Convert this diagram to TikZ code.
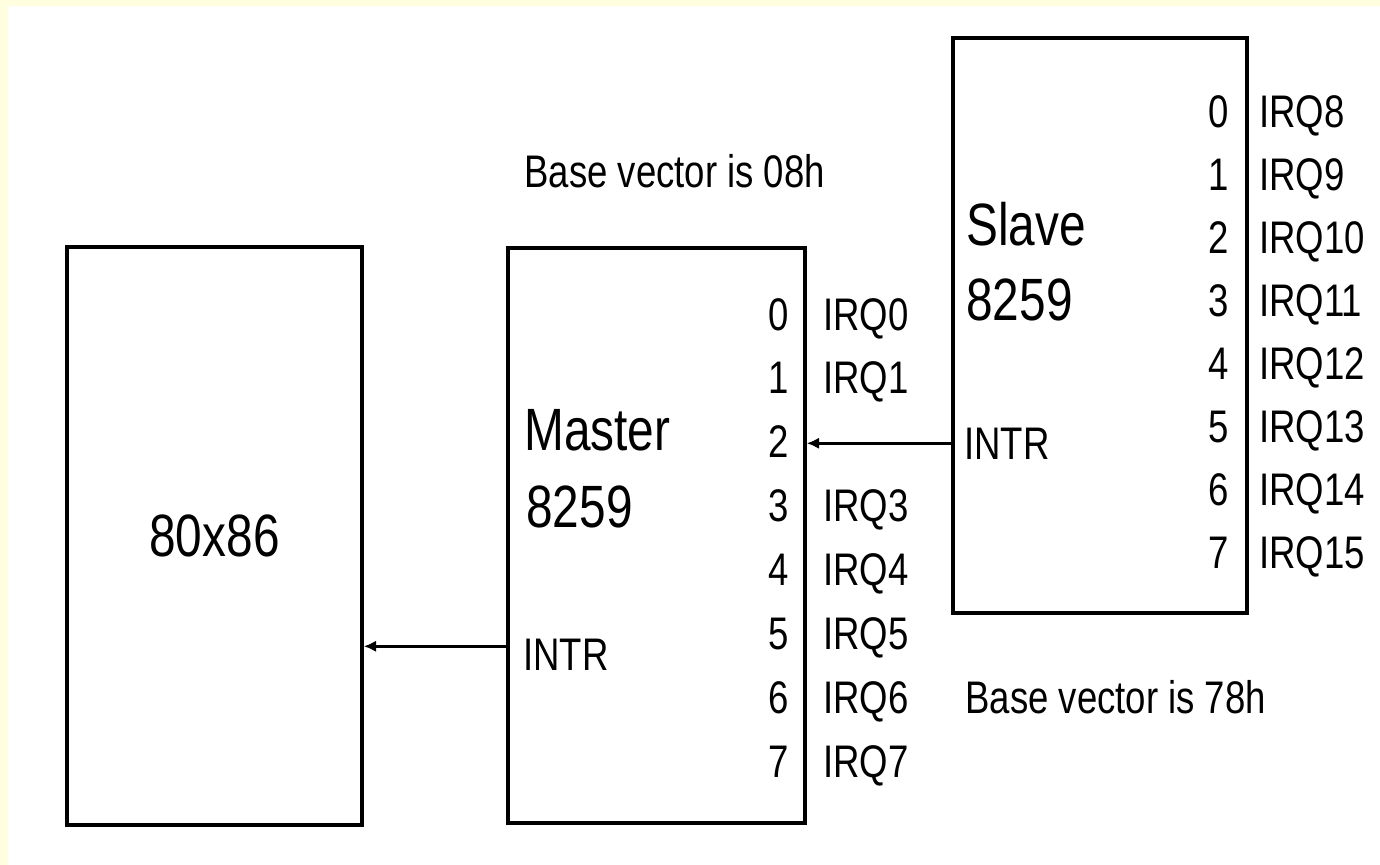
\documentclass[tikz,border=0pt]{standalone}
\usepackage{fontspec}
\setmainfont[FakeStretch=0.8]{Liberation Sans}
\usetikzlibrary{arrows.meta,positioning}
\definecolor{FillEdge}{RGB}{255,255,224}

\begin{document}
\begin{tikzpicture}[x=0.02cm, y=-0.02cm,
    box/.style={draw, line width=2pt, minimum width=5.9cm, minimum height=11.5cm, inner sep=0pt, font=\fontsize{34}{40}\selectfont},
    big/.style={anchor=base west, inner sep=0pt, font=\fontsize{34}{40}\selectfont},
    lbl/.style={anchor=base west, inner sep=0pt, font=\fontsize{26}{30}\selectfont},
    pin/.style={anchor=base east, inner sep=0pt, font=\fontsize{26}{30}\selectfont},
    arr/.style={-{Latex[length=7pt,width=6.5pt]}, line width=2pt}
]
    % page with the pale edge strips
    \fill[white] (0,0) rectangle (1380,865);
    \fill[FillEdge] (0,0) rectangle (1380,6);
    \fill[FillEdge] (0,0) rectangle (8,865);
    \useasboundingbox (0,0) rectangle (1380,865);

    \node[box, minimum height=11.56cm]  (cpu)    at (214.5,536)   {80x86};
    \node[box, minimum width=5.94cm]    (master) at (656.5,535.5) {};
    \node[box, minimum width=5.88cm]    (slave)  at (1100,325.5)  {};

    \node[big] (mname) at (524,450) {Master};
    \node[big] (mnum)  at (526,527) {8259};
    \node[lbl] (mintr) at (523,670) {INTR};
    \node[big] (sname) at (966,245) {Slave};
    \node[big] (snum)  at (966,320) {8259};
    \node[lbl] (sintr) at (964,459) {INTR};

    \node[lbl] (mbase) at (524,188) {Base vector is 08h};
    \node[lbl] (sbase) at (965,713) {Base vector is 78h};

    % master inputs
    \foreach \i in {0,...,7}
        \node[pin] (mp\i) at (789,330+63.9*\i) {\i};
    \foreach \i in {0,1,3,4,5,6,7}
        \node[lbl] (mirq\i) at (823,330+63.9*\i) {IRQ\i};

    % slave inputs
    \foreach \i [evaluate=\i as \n using int(\i+8)] in {0,...,7} {
        \node[pin] (sp\i) at (1229,128+62.9*\i) {\i};
        \node[lbl] (sirq\i) at (1259,128+62.9*\i) {IRQ\n};
    }

    \draw[arr] (slave.west |- sintr) -- (master.east |- sintr);
    \draw[arr] ([yshift=0.16cm]mintr.west -| master.west) -- ([yshift=0.16cm]mintr.west -| cpu.east);
\end{tikzpicture}
\end{document}
